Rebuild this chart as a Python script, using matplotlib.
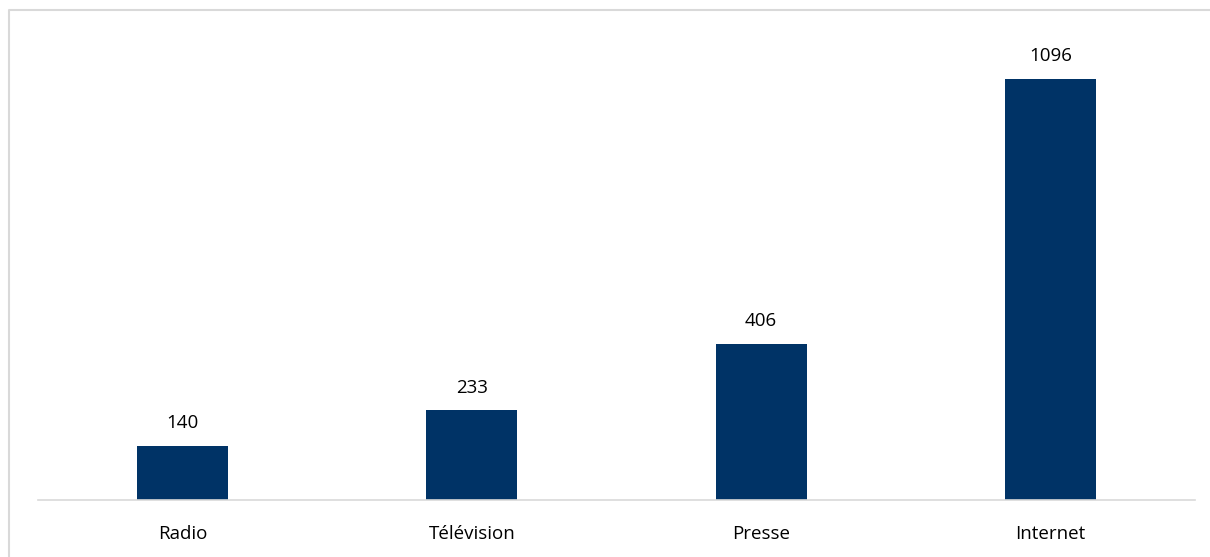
import matplotlib.pyplot as plt
from matplotlib.lines import Line2D
import numpy as np

categories = ['Radio', 'Télévision', 'Presse', 'Internet']
values = [140, 233, 406, 1096]

W, H = 1210, 557
fig = plt.figure(figsize=(W / 100, H / 100), dpi=100)
plt.rcParams['font.family'] = ['Open Sans', 'DejaVu Sans']

# chart frame: only top and left edges are visible in the crop
fig.lines.append(Line2D([9 / W, 9 / W, 1], [0, (H - 10) / H, (H - 10) / H],
                        transform=fig.transFigure, color='#d9d9d9', linewidth=1.5))

ax = fig.add_axes([38 / W, (H - 500) / H, (1195 - 38) / W, 461 / H])
x = np.arange(len(categories))
bars = ax.bar(x, values, width=0.315, color='#003366')
for xi, v in zip(x, values):
    ax.annotate(str(v), (xi, v), xytext=(0, 10), textcoords='offset points',
                ha='center', va='bottom', fontsize=13.5, color='#000000')

ax.set_xlim(-0.5, 3.5)
ax.set_ylim(0, 1200)
ax.set_xticks(x)
ax.set_xticklabels(categories, fontsize=13.5)
ax.tick_params(axis='x', length=0, pad=18)
ax.set_yticks([])
for s in ['top', 'right', 'left']:
    ax.spines[s].set_visible(False)
ax.spines['bottom'].set_color('#d9d9d9')
ax.spines['bottom'].set_linewidth(1.2)

plt.savefig('out.png', dpi=100)
